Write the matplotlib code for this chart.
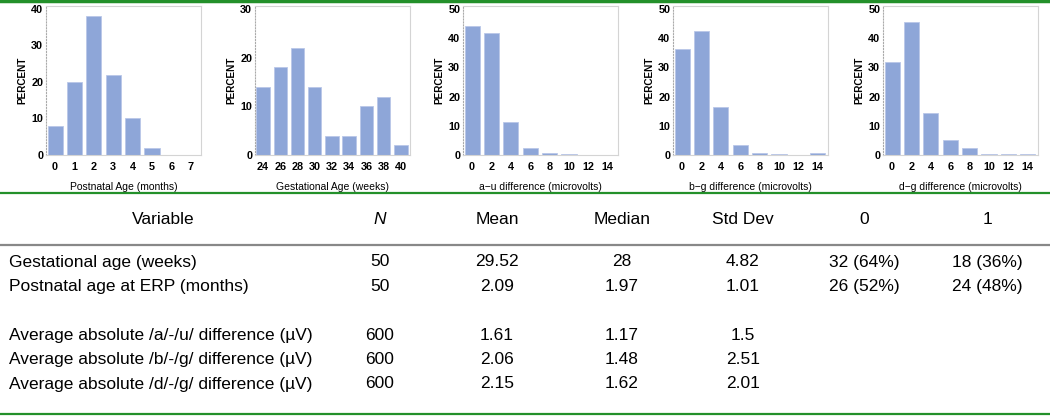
import matplotlib
matplotlib.use("Agg")
import matplotlib.pyplot as plt
from matplotlib.lines import Line2D

plt.rcParams['font.family'] = ['Liberation Sans', 'DejaVu Sans']

# histogram data (percent)
post_x = [0, 1, 2, 3, 4, 5, 6, 7]
post_pct = [8, 20, 38, 22, 10, 2, 0, 0]
gest_x = [24, 26, 28, 30, 32, 34, 36, 38, 40]
gest_pct = [14, 18, 22, 14, 4, 4, 10, 12, 2]
diff_x = [0, 2, 4, 6, 8, 10, 12, 14]
au_pct = [44, 41.7, 11.2, 2.3, 0.7, 0.25, 0, 0]
bg_pct = [36.3, 42.4, 16.6, 3.3, 0.7, 0.2, 0, 0.6]
dg_pct = [31.7, 45.5, 14.5, 5.3, 2.4, 0.25, 0.2, 0.25]

panels = [
    (post_x, post_pct, 'Postnatal Age (months)', 40, 1),
    (gest_x, gest_pct, 'Gestational Age (weeks)', 30, 2),
    (diff_x, au_pct, 'a\u2212u difference (microvolts)', 50, 2),
    (diff_x, bg_pct, 'b\u2212g difference (microvolts)', 50, 2),
    (diff_x, dg_pct, 'd\u2212g difference (microvolts)', 50, 2),
]

# table data
header = ["Variable", "N", "Mean", "Median", "Std Dev", "0", "1"]
row_names = ["Gestational age (weeks)", "Postnatal age at ERP (months)",
             "Average absolute /a/-/u/ difference (\u00b5V)",
             "Average absolute /b/-/g/ difference (\u00b5V)",
             "Average absolute /d/-/g/ difference (\u00b5V)"]
n_vals = ["50", "50", "600", "600", "600"]
means = ["29.52", "2.09", "1.61", "2.06", "2.15"]
medians = ["28", "1.97", "1.17", "1.48", "1.62"]
sds = ["4.82", "1.01", "1.5", "2.51", "2.01"]
col0 = ["32 (64%)", "26 (52%)", "", "", ""]
col1 = ["18 (36%)", "24 (48%)", "", "", ""]

W, H = 1050, 416
fig = plt.figure(figsize=(W / 100, H / 100), dpi=100)

def fx(px):
    return px / W

def fy(py):
    return 1 - py / H

bar_color = '#8EA6D8'
lefts = [46, 255, 463, 673, 883]
ax_w, ax_top, ax_bot = 155, 6, 155

for left, (xs, ys, xlabel, ytop, step) in zip(lefts, panels):
    ax = fig.add_axes([fx(left), fy(ax_bot), fx(ax_w), (ax_bot - ax_top) / H])
    ax.bar(xs, ys, width=0.78 * step, color=bar_color, edgecolor='#b9c7e8', linewidth=0.6)
    ax.set_xlim(xs[0] - 0.47 * step, xs[-1] + 0.53 * step)
    ax.set_ylim(0, ytop * 1.02)
    ax.set_xticks(xs)
    ax.set_yticks(range(0, ytop + 1, 10))
    ax.tick_params(length=0, labelsize=7.8)
    ax.tick_params(axis='x', pad=5)
    ax.tick_params(axis='y', pad=2)
    for lab in ax.get_xticklabels() + ax.get_yticklabels():
        lab.set_fontweight('bold')
    ax.set_xlabel(xlabel, fontsize=7.5, labelpad=7)
    ax.set_ylabel('PERCENT', fontsize=7.2, fontweight='bold', labelpad=3)
    for sp in ax.spines.values():
        sp.set_color('#d4d4d4')
        sp.set_linewidth(0.8)
    ax.spines['left'].set_linestyle(':')
    ax.spines['left'].set_color('#aaaaaa')

# horizontal rules
green = '#23902a'
for py, col, lw in [(1, green, 2.5), (193, green, 1.6), (245, '#888888', 1.6), (414, green, 1.6)]:
    fig.add_artist(Line2D([0, 1], [fy(py), fy(py)], transform=fig.transFigure, color=col, lw=lw))

# table
fs = 12.5
col_x = [163, 380, 497, 622, 743, 864, 987]
for i, (txt, cx) in enumerate(zip(header, col_x)):
    fig.text(fx(cx), fy(220), txt, ha='center', va='center', fontsize=fs,
             style='italic' if txt == 'N' else 'normal')

row_y = [262 + 24.4 * k for k in [0, 1, 3, 4, 5]]
columns = [n_vals, means, medians, sds, col0, col1]
for r, name in enumerate(row_names):
    y = fy(row_y[r])
    fig.text(fx(9), y, name, ha='left', va='center', fontsize=fs)
    for vals, cx in zip(columns, col_x[1:]):
        fig.text(fx(cx), y, vals[r], ha='center', va='center', fontsize=fs)

fig.savefig('out.png', dpi=100)
